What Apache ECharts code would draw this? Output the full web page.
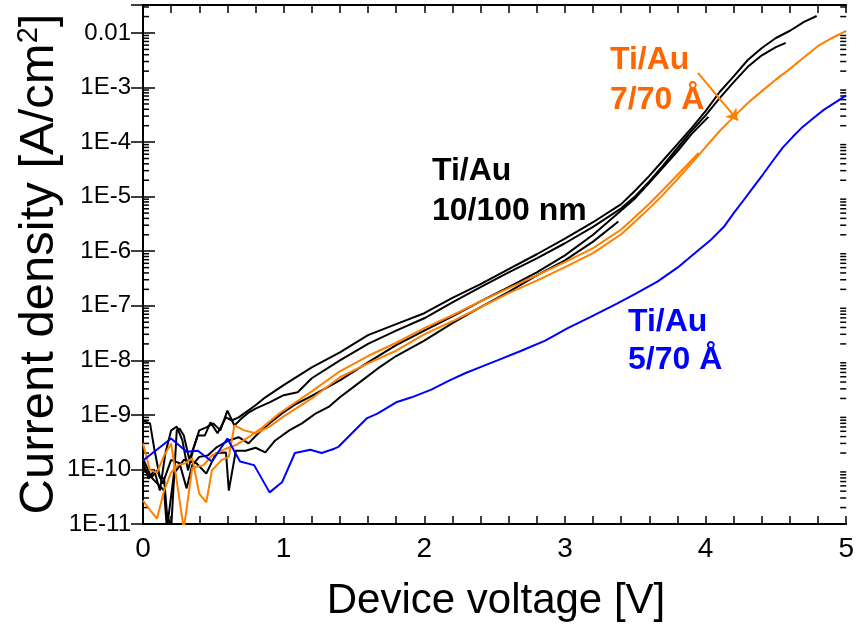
<!DOCTYPE html>
<html>
<head>
<meta charset="utf-8">
<script src="https://cdn.jsdelivr.net/npm/echarts@6.0.0/dist/echarts.min.js"></script>
<style>
  html, body { margin: 0; padding: 0; background: #fff; }
  #chart { width: 857px; height: 628px; }
</style>
</head>
<body>
<div id="chart"></div>
<script>
// axis ranges and tick labels
const xMin = 0, xMax = 5
const yMin = 1e-11, yMax = 0.0326
const yTickLabels = ['1E-11', '1E-10', '1E-9', '1E-8', '1E-7', '1E-6', '1E-5', '1E-4', '1E-3', '0.01']

// Ti/Au 10/100 nm devices, [voltage V, current density A/cm2]
const blackA = [[0, 7.9e-10], [0.05, 7.0e-10], [0.08, 2.4e-10], [0.12, 7.1e-11], [0.15, 6.8e-11], [0.17, 1.6e-11], [0.2, 8e-12], [0.24, 5.2e-10], [0.26, 5.6e-10], [0.29, 4.2e-10], [0.33, 1.5e-10], [0.39, 4.2e-10], [0.44, 4.2e-10], [0.48, 7.3e-10], [0.53, 4.6e-10], [0.59, 9.0e-10], [0.63, 7.9e-10], [0.68, 9.0e-10], [0.8, 1.5e-9], [0.87, 2.1e-9], [1.0, 3.5e-9], [1.2, 7.4e-9], [1.4, 1.4e-8], [1.6, 2.9e-8], [1.8, 4.6e-8], [2.0, 7.3e-8], [2.2, 1.4e-7], [2.4, 2.5e-7], [2.6, 4.7e-7], [2.8, 8.8e-7], [3.0, 1.7e-6], [3.2, 3.4e-6], [3.4, 7.3e-6], [3.5, 1.3e-5], [3.6, 2.4e-5], [3.7, 4.7e-5], [3.8, 9.2e-5], [3.9, 1.8e-4], [4.0, 3.7e-4], [4.1, 8.3e-4], [4.2, 1.6e-3], [4.3, 3.2e-3], [4.4, 5.3e-3], [4.5, 8.1e-3], [4.6, 1.1e-2], [4.7, 1.6e-2], [4.79, 2.05e-2]]
const blackB = [[0, 1.34e-10], [0.04, 6.8e-11], [0.08, 9.6e-11], [0.12, 4.1e-11], [0.16, 2.05e-10], [0.2, 5.2e-10], [0.24, 6.1e-10], [0.28, 3.4e-10], [0.32, 9.6e-11], [0.36, 2.5e-10], [0.4, 5.2e-10], [0.45, 5.9e-10], [0.5, 7.0e-10], [0.55, 5.2e-10], [0.6, 1.2e-9], [0.65, 6.4e-10], [0.7, 8.6e-10], [0.75, 1.1e-9], [0.8, 1.3e-9], [0.9, 1.7e-9], [1.0, 2.3e-9], [1.1, 2.6e-9], [1.2, 4.7e-9], [1.4, 1.0e-8], [1.6, 2.0e-8], [1.8, 3.5e-8], [2.0, 5.9e-8], [2.2, 1.16e-7], [2.4, 2.2e-7], [2.6, 4.1e-7], [2.8, 7.4e-7], [3.0, 1.4e-6], [3.2, 2.8e-6], [3.4, 6.1e-6], [3.5, 1.02e-5], [3.6, 1.9e-5], [3.7, 3.8e-5], [3.8, 7.8e-5], [3.9, 1.6e-4], [4.0, 3.1e-4], [4.1, 6.4e-4], [4.2, 1.26e-3], [4.3, 2.4e-3], [4.4, 3.9e-3], [4.5, 5.5e-3], [4.57, 6.6e-3]]
const blackC = [[0, 1.6e-10], [0.06, 7.1e-11], [0.1, 9.6e-11], [0.14, 5.5e-11], [0.2, 1.5e-10], [0.26, 1.3e-10], [0.31, 4.5e-11], [0.35, 1.2e-10], [0.4, 1.7e-10], [0.46, 1.8e-10], [0.52, 2.5e-10], [0.61, 3.4e-10], [0.68, 3.9e-10], [0.75, 3.0e-10], [0.82, 4.6e-10], [0.9, 7.0e-10], [0.99, 1.07e-9], [1.09, 1.6e-9], [1.18, 2.1e-9], [1.3, 3.1e-9], [1.4, 4.3e-9], [1.6, 9.2e-9], [1.8, 1.9e-8], [2.0, 3.5e-8], [2.2, 6.4e-8], [2.4, 1.2e-7], [2.6, 2.2e-7], [2.8, 4.1e-7], [3.0, 8.4e-7], [3.2, 2.0e-6], [3.4, 5.6e-6], [3.5, 9.4e-6], [3.6, 1.8e-5], [3.7, 3.5e-5], [3.8, 6.8e-5], [3.9, 1.4e-4], [4.02, 2.9e-4]]
const blackD = [[0, 1.04e-10], [0.08, 6.3e-11], [0.15, 4.1e-11], [0.17, 8e-12], [0.22, 8.4e-11], [0.29, 1.5e-10], [0.38, 1.3e-10], [0.45, 8.4e-11], [0.52, 2.0e-10], [0.59, 2.05e-10], [0.61, 4.1e-11], [0.66, 2.2e-10], [0.73, 2.2e-10], [0.8, 2.5e-10], [0.87, 2.05e-10], [0.94, 3.4e-10], [1.04, 5.2e-10], [1.13, 7.0e-10], [1.23, 1.07e-9], [1.32, 1.4e-9], [1.4, 2.1e-9], [1.5, 3.3e-9], [1.67, 7.1e-9], [1.8, 1.2e-8], [2.0, 2.3e-8], [2.2, 4.8e-8], [2.4, 9.4e-8], [2.6, 1.8e-7], [2.8, 3.6e-7], [3.0, 6.8e-7], [3.2, 1.5e-6], [3.38, 3.5e-6]]

// Ti/Au 7/70 A devices
const orangeA = [[0, 2.7e-11], [0.05, 1.8e-11], [0.1, 1.26e-11], [0.15, 4.1e-11], [0.2, 8.8e-11], [0.25, 1.2e-10], [0.3, 1.3e-10], [0.35, 1.6e-10], [0.4, 3.6e-11], [0.45, 2.5e-11], [0.49, 9.6e-11], [0.56, 1.5e-10], [0.61, 1.7e-10], [0.65, 6.4e-10], [0.72, 5.2e-10], [0.8, 4.6e-10], [0.9, 6.1e-10], [1.0, 9.4e-10], [1.2, 2.0e-9], [1.4, 4.9e-9], [1.6, 8.8e-9], [1.8, 1.5e-8], [2.0, 3.0e-8], [2.2, 5.2e-8], [2.4, 9.4e-8], [2.6, 1.7e-7], [2.8, 2.9e-7], [3.0, 5.1e-7], [3.2, 9.2e-7], [3.4, 2.05e-6], [3.5, 3.5e-6], [3.6, 6.1e-6], [3.7, 1.1e-5], [3.8, 2.1e-5], [3.9, 4.1e-5], [4.0, 8.1e-5], [4.1, 1.6e-4], [4.2, 2.9e-4], [4.3, 5.2e-4], [4.4, 8.6e-4], [4.5, 1.4e-3], [4.6, 2.2e-3], [4.7, 3.6e-3], [4.8, 5.8e-3], [4.9, 8.1e-3], [5.0, 1.09e-2]]
const orangeB = [[0, 3.0e-10], [0.05, 9.6e-11], [0.1, 8.8e-11], [0.15, 1.8e-10], [0.2, 3.0e-10], [0.25, 4.1e-11], [0.29, 8e-12], [0.35, 1.06e-10], [0.43, 1.2e-10], [0.49, 1.8e-10], [0.59, 2.4e-10], [0.66, 2.8e-10], [0.75, 3.9e-10], [0.85, 5.9e-10], [0.97, 1.07e-9], [1.2, 2.7e-9], [1.4, 6.3e-9], [1.6, 1.2e-8], [1.8, 2.1e-8], [2.0, 3.9e-8], [2.2, 6.7e-8], [2.4, 1.2e-7], [2.6, 2.1e-7], [2.8, 3.6e-7], [3.0, 6.3e-7], [3.2, 1.14e-6], [3.4, 2.5e-6], [3.5, 4.3e-6], [3.6, 7.4e-6], [3.7, 1.35e-5], [3.8, 2.5e-5], [3.95, 6.3e-5]]

// Ti/Au 5/70 A device
const blue = [[0, 1.46e-10], [0.2, 3.7e-10], [0.31, 2.1e-10], [0.39, 2.2e-10], [0.49, 1.4e-10], [0.6, 3.7e-10], [0.69, 1.4e-10], [0.79, 1.2e-10], [0.9, 3.8e-11], [0.99, 5.9e-11], [1.08, 2.0e-10], [1.19, 2.3e-10], [1.27, 2.0e-10], [1.36, 2.4e-10], [1.39, 2.6e-10], [1.59, 8.6e-10], [1.67, 1.07e-9], [1.8, 1.7e-9], [1.91, 2.1e-9], [2.05, 2.9e-9], [2.18, 4.3e-9], [2.29, 5.8e-9], [2.43, 8.1e-9], [2.52, 1.0e-8], [2.69, 1.5e-8], [2.86, 2.3e-8], [3.02, 3.9e-8], [3.18, 6.2e-8], [3.37, 1.1e-7], [3.51, 1.7e-7], [3.66, 2.8e-7], [3.8, 5.0e-7], [3.94, 1.0e-6], [4.03, 1.55e-6], [4.13, 2.8e-6], [4.2, 5.0e-6], [4.27, 8.6e-6], [4.34, 1.5e-5], [4.41, 2.6e-5], [4.48, 4.6e-5], [4.55, 8.0e-5], [4.62, 1.25e-4], [4.69, 1.9e-4], [4.77, 2.8e-4], [4.84, 3.9e-4], [4.92, 5.3e-4], [5.0, 7.2e-4]]

// arrow pointing at the 7/70 A curve
const arrowFrom = [3.946, 1.85e-3]
const arrowTo = [4.229, 2.5e-4]

const BLACK = '#000000'
const ORANGE = '#ff8000'
const ORANGE_TEXT = '#ff6600'
const BLUE = '#0000ff'
const FONT = '"Liberation Sans", Arial, sans-serif'

// log minor ticks 2..9 per decade
const minorY = []
for (let e = -11; e <= -2; e++) {
  for (let m = 2; m <= 9; m++) {
    const v = m * Math.pow(10, e)
    if (v < yMax) minorY.push([0, v])
  }
}

function lineSeries(name, data, color) {
  return {
    name: name,
    type: 'line',
    data: data,
    showSymbol: false,
    symbol: 'none',
    clip: true,
    lineStyle: { color: color, width: 2 },
    itemStyle: { color: color },
  }
}

function label(x, y, text, color) {
  return {
    type: 'text', x: x, y: y,
    style: {
      text: text, font: 'bold 32px ' + FONT, fill: color,
      align: 'left', verticalAlign: 'middle', textAlign: 'left', textVerticalAlign: 'middle',
    },
  }
}

const chart = echarts.init(document.getElementById('chart'))

const yLabel = function (v) {
  const e = Math.log10(v)
  const k = Math.round(e)
  if (Math.abs(e - k) > 1e-6) return ''
  return yTickLabels[k + 11] || ''
}

const orangeMain = lineSeries('7/70 A', orangeA, ORANGE)
orangeMain.markLine = {
  silent: true,
  symbol: ['none', 'arrow'],
  symbolSize: 11,
  label: { show: false },
  lineStyle: { color: ORANGE, width: 2, type: 'solid' },
  data: [[{ coord: arrowFrom }, { coord: arrowTo }]],
}

chart.setOption({
  animation: false,
  backgroundColor: '#ffffff',
  grid: { left: 143, right: 7, top: 5, bottom: 104, containLabel: false },
  xAxis: [
    {
      type: 'value',
      min: xMin,
      max: xMax,
      interval: 1,
      position: 'bottom',
      axisLine: { lineStyle: { color: BLACK, width: 2 } },
      axisTick: { inside: true, length: 8, lineStyle: { color: BLACK, width: 1.5 } },
      minorTick: { show: true, splitNumber: 5, length: 8, lineStyle: { color: BLACK, width: 1.5 } },
      axisLabel: { color: BLACK, fontSize: 28, fontFamily: FONT, margin: 11 },
      splitLine: { show: false },
    },
    {
      type: 'value',
      min: xMin,
      max: xMax,
      interval: 1,
      position: 'top',
      axisLine: { lineStyle: { color: BLACK, width: 2 } },
      axisTick: { inside: true, length: 8, lineStyle: { color: BLACK, width: 1.5 } },
      minorTick: { show: true, splitNumber: 5, length: 8, lineStyle: { color: BLACK, width: 1.5 } },
      axisLabel: { show: false },
      splitLine: { show: false },
    },
  ],
  yAxis: [
    {
      type: 'log',
      min: yMin,
      max: yMax,
      interval: 1,
      position: 'left',
      axisLine: { lineStyle: { color: BLACK, width: 2 } },
      axisTick: { inside: true, length: 12, lineStyle: { color: BLACK, width: 1.5 } },
      axisLabel: { color: BLACK, fontSize: 24, fontFamily: FONT, margin: 12, formatter: yLabel },
      splitLine: { show: false },
    },
    {
      type: 'log',
      min: yMin,
      max: yMax,
      interval: 1,
      position: 'right',
      axisLine: { lineStyle: { color: BLACK, width: 2 } },
      axisTick: { inside: true, length: 12, lineStyle: { color: BLACK, width: 1.5 } },
      axisLabel: { show: false },
      splitLine: { show: false },
    },
  ],
  series: [
    lineSeries('10/100 nm a', blackA, BLACK),
    lineSeries('10/100 nm b', blackB, BLACK),
    lineSeries('10/100 nm c', blackC, BLACK),
    lineSeries('10/100 nm d', blackD, BLACK),
    orangeMain,
    lineSeries('7/70 A b', orangeB, ORANGE),
    lineSeries('5/70 A', blue, BLUE),
    {
      type: 'custom',
      silent: true,
      clip: false,
      data: minorY,
      encode: { x: 0, y: 1 },
      renderItem: function (params, api) {
        const v = api.value(1)
        const l = api.coord([xMin, v])
        const r = api.coord([xMax, v])
        const st = { stroke: BLACK, lineWidth: 1.5 }
        return {
          type: 'group',
          children: [
            { type: 'line', shape: { x1: l[0], y1: l[1], x2: l[0] + 6, y2: l[1] }, style: st },
            { type: 'line', shape: { x1: r[0], y1: r[1], x2: r[0] - 6, y2: r[1] }, style: st },
          ],
        }
      },
    },
  ],
  graphic: [
    {
      type: 'text', x: 39, y: 264, rotation: Math.PI / 2,
      style: {
        text: 'Current density [A/cm{sup|2}]',
        font: '49px ' + FONT, fill: BLACK,
        align: 'center', verticalAlign: 'middle',
        textAlign: 'center', textVerticalAlign: 'middle',
        rich: { sup: { fontSize: 29, fontFamily: FONT, fill: BLACK, verticalAlign: 'top', padding: [0, 0, 17, 0] } },
      },
    },
    {
      type: 'text', x: 496, y: 601,
      style: { text: 'Device voltage [V]', font: '42px ' + FONT, fill: BLACK, align: 'center', verticalAlign: 'middle', textAlign: 'center', textVerticalAlign: 'middle' },
    },
    label(432, 171, 'Ti/Au', BLACK),
    label(432, 211, '10/100 nm', BLACK),
    label(610, 60, 'Ti/Au', ORANGE_TEXT),
    label(610, 100, '7/70 Å', ORANGE_TEXT),
    label(628, 322, 'Ti/Au', BLUE),
    label(628, 360, '5/70 Å', BLUE),
  ],
})
</script>
</body>
</html>
